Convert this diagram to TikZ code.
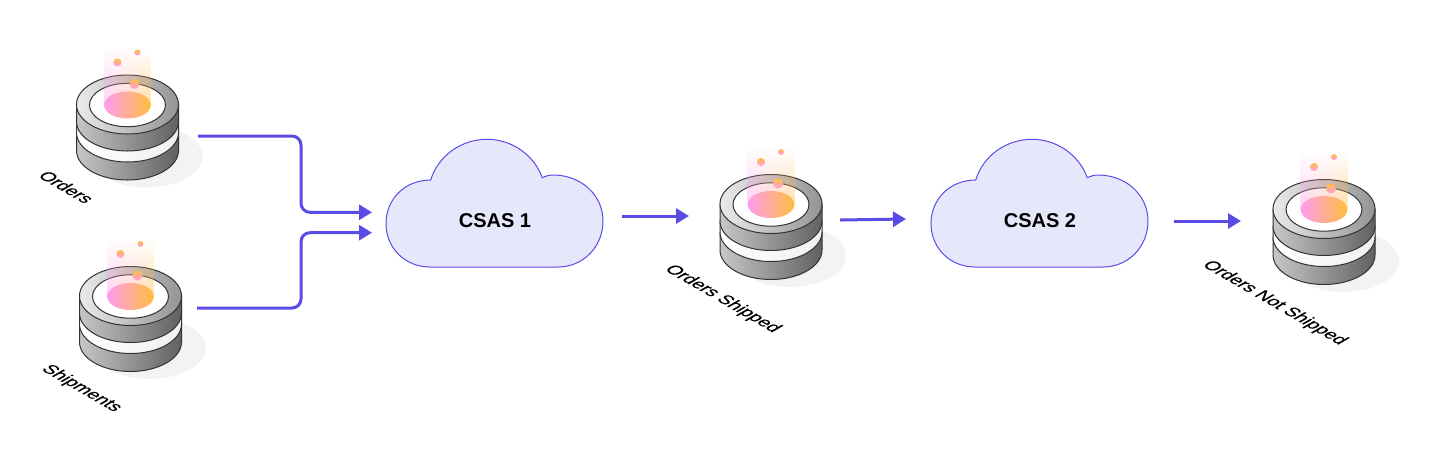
\documentclass[tikz,border=0pt]{standalone}
\usepackage{fontspec}
\setmainfont{Liberation Sans}
\newfontfamily\labelfont[FakeBold=0.25]{Liberation Sans}
\usetikzlibrary{fadings,arrows.meta,calc}
\definecolor{accent}{HTML}{5B4BE6}
\definecolor{cloudfill}{HTML}{E7E7FB}
\definecolor{rimdark}{HTML}{333333}
\definecolor{shadowc}{HTML}{F3F3F3}
\definecolor{pinkc}{HTML}{FF9CF0}
\definecolor{orangec}{HTML}{FFBE3C}
\tikzset{
  flow/.style={draw=accent,line width=3pt,rounded corners=9pt,-{Triangle[length=13pt,width=15pt]}},
  cloudshape/.style={draw=accent,fill=cloudfill,line width=1pt},
  metal/.style={draw=rimdark,line width=1pt,left color=black!22,right color=black!62},
  rim/.style={draw=rimdark,line width=1pt,left color=black!8,right color=black!42},
  band/.style={draw=rimdark,line width=1pt,left color=white,right color=black!6},
  hole/.style={draw=rimdark,line width=1pt,fill=white},
  anchorbox/.style={inner sep=0pt,outer sep=0pt,rectangle},
  cloudtext/.style={anchorbox,font=\fontsize{20}{24}\selectfont\bfseries,text=black},
  isotext/.style={inner sep=0pt,font=\labelfont\fontsize{18}{20}\selectfont,text=black,anchor=center,cm={.866,-.5,.866,.5,(0,0)}},
  dotshade/.style={top color=orangec,bottom color=pinkc}
}
% one storey of the cylinder: silhouette from level y1 down to level y2
\newcommand{\storey}[3]{%
  \draw[#1] (-51,#2) -- (-51,#3)
    .. controls (-51,#3+16.3) and (-28.2,#3+29.5) .. (0,#3+29.5)
    .. controls (28.2,#3+29.5) and (51,#3+16.3) .. (51,#3)
    -- (51,#2) -- cycle;}
\newcommand{\dbicon}[2]{%
\begin{scope}[shift={(#1,#2)}]
  \fill[shadowc] (19,52) ellipse [x radius=56,y radius=31];
  \storey{metal}{28}{46}
  \storey{band}{17}{28}
  \storey{metal}{0}{17}
  \draw[rim] (0,0) ellipse [x radius=51,y radius=29.5];
  \draw[hole] (0,0.5) ellipse [x radius=38,y radius=21.7];
  \shade[left color=pinkc,right color=orangec] (0,0.5) ellipse [x radius=23.3,y radius=13.5];
  \shade[left color=pinkc,right color=orangec,path fading=north,opacity=.45] (-23.3,-58) rectangle (23.3,0.5);
  \shade[dotshade] (-10,-42) circle (4);
  \shade[dotshade] (10,-52) circle (3);
  \shade[dotshade] (7,-20.5) circle (5);
\end{scope}}
\newcommand{\cloudicon}[1]{%
\begin{scope}[shift={(#1,0)}]
  \draw[cloudshape] (430,267) .. controls (405,267) and (386,248) .. (386,223.5)
    .. controls (386,199) and (405,180) .. (430.7,180)
    .. controls (438,156) and (461,139.3) .. (487,139.3)
    .. controls (512,139.3) and (534,155) .. (542.3,177.7)
    .. controls (546,176) and (549,175) .. (553,175)
    .. controls (581,175) and (603,195) .. (603,221)
    .. controls (603,247) and (583,267) .. (558,267) -- cycle;
\end{scope}}
\begin{document}
\begin{tikzpicture}[x=1pt,y=-1pt]
\useasboundingbox[fill=white] (0,0) rectangle (1437,467);
\dbicon{127.5}{104.5}
\dbicon{130.5}{296}
\dbicon{771}{204}
\dbicon{1324}{209}
\cloudicon{0}
\cloudicon{545}
\node[anchorbox,minimum width=141pt,minimum height=60pt] (db1) at (127.5,136) {};
\node[anchorbox,minimum width=133pt,minimum height=60pt] (db2) at (130.5,308) {};
\node[anchorbox,minimum width=138pt,minimum height=60pt] (db3) at (771,220) {};
\node[anchorbox,minimum width=100pt,minimum height=60pt] (db4) at (1324,221) {};
\node[cloudtext,minimum width=254pt,minimum height=40pt] (c1) at (495,220.5) {CSAS 1};
\node[cloudtext,minimum width=254pt,minimum height=40pt] (c2) at (1040,220.5) {CSAS 2};
\draw[flow] (db1.east) -- (301,136) -- (301,212.3) -- ([yshift=8.2pt,xshift=4pt]c1.west);
\draw[flow] (db2.east) -- (301,308) -- (301,232.7) -- ([yshift=-12.2pt,xshift=4pt]c1.west);
\draw[flow] ([yshift=4.5pt]c1.east) -- ([yshift=4pt,xshift=-13pt]db3.west);
\draw[flow] (db3.east) -- ([yshift=1.5pt,xshift=-7pt]c2.west);
\draw[flow] ([xshift=7pt,yshift=-0.5pt]c2.east) -- ([xshift=-33pt]db4.west);
\node[isotext] (l1) at (66.5,187) {Orders};
\node[isotext] (l2) at (81.5,388.5) {Shipments};
\node[isotext] (l3) at (722.5,299) {Orders Shipped};
\node[isotext] (l4) at (1274.5,303) {Orders Not Shipped};
\end{tikzpicture}
\end{document}
